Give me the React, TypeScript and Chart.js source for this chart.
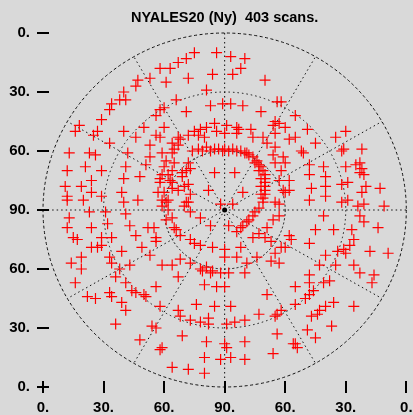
import React, { useEffect, useRef } from "react";
import { Chart, registerables } from "chart.js";

Chart.register(...registerables);

const TITLE = "NYALES20 (Ny)  403 scans.";
// tick positions (zenith-distance projection, degrees); label = elevation
const tickValues = [-90, -60, -30, 0, 30, 60, 90];
const elevationRings = [0, 30, 60];
const azimuthSpokes = [0, 30, 60, 90, 120, 150, 180, 210, 240, 270, 300, 330];

// scan positions: [east, north] offsets from zenith, in degrees of zenith distance
const scansNorthWestArc: [number, number][] = [
  [-32, 72], [-37, 67], [-43, 66], [-44, 63], [-50, 60], [-52, 56], [-49, 56], [-56, 54], [-57, 51], [-61, 46],
  [-72, 43], [-74, 40], [-63, 40], [-65, 38], [-50, 40], [-40, 42], [-44, 37], [-34, 38], [-37, 33], [-34, 48],
  [-32, 51], [-57, 34], [-77, 29], [-67, 29], [-48, 29], [-31, 29],
];
const scansNorth: [number, number][] = [
  [-15, 80], [-4, 80], [3, 78], [10, 77], [-23, 75], [-19, 77], [-27, 72], [-6, 69], [4, 69], [8, 72],
  [-18, 67], [-29, 65], [20, 66], [-9, 61], [-24, 56], [-30, 52], [-7, 53], [-1, 54], [3, 54], [9, 53],
  [-19, 50], [18, 50], [26, 55], [28, 55], [25, 45], [24, 43], [30, 42], [-30, 42], [1, 43], [6, 42],
  [13, 41], [-9, 42], [-5, 44], [-12, 41], [-15, 40], [-18, 38], [-13, 38], [-10, 37], [-4, 40], [0, 39],
  [6, 39], [14, 37], [19, 37], [21, 34], [25, 32], [-22, 36], [-23, 33], [-25, 31], [-32, 37],
  [-26, 34], [-23, 37], [7, 41], [27, 44], [25, 39],
];
const scansRingTop: [number, number][] = [
  [-16, 30], [-13, 31], [-11, 30], [-9, 32], [-7, 30], [-5, 31], [-3, 31], [-1, 30], [0, 31], [2, 30],
  [4, 31], [6, 30], [8, 30], [10, 29], [12, 28],
];
const scansRingEast: [number, number][] = [
  [14, 27], [16, 25], [17, 23], [18, 22], [19, 20], [20, 18], [20, 16], [20, 14], [20, 12], [20, 10],
  [20, 8], [19, 6], [19, 4], [17, 20], [18, 16], [18, 12], [18, 8], [15, 24], [11, 29],
  [15, -1], [14, -3], [12, -5], [11, -6], [9, -8], [8, -9], [6, -11], [17, 1],
];
const scansRingWest: [number, number][] = [
  [-25, 24], [-26, 20], [-27, 15], [-26, 11], [-28, 5], [-32, 14], [-33, 9], [-31, 2], [-26, -4], [-25, -9],
  [-15, -17], [-18, 24], [-21, 19], [-18, 13], [-18, 4], [-20, 2], [-29, 25], [-30, 22], [-31, 18], [-29, 4],
  [-28, 0], [-29, -5], [-26, 29],
];
const scansInner: [number, number][] = [
  [-5, 19], [5, 19], [9, 9], [-8, 10], [-19, 20], [-17, 21], [-21, 17], [-20, 12], [-17, 8], [-19, 4],
  [-17, -1], [-23, 10], [-26, 14], [-28, 18], [-30, 9], [-31, 5], [-12, -4], [-7, -8], [2, -8], [-2, 3],
  [4, 3], [-24, -10], [-22, -13], [-17, -15], [-12, -18], [-6, -19], [0, -20], [8, -19], [14, -14], [17, -12],
  [21, -9], [24, -5], [27, -3], [20, -14], [23, -16], [-31, -28], [-26, -28], [-22, -25], [-17, -27], [-12, -30],
  [-9, -29], [-6, -31], [0, -24], [6, -24], [11, -27], [16, -24], [23, -26], [25, -22], [28, -19], [27, -27],
  [29, 27], [24, 28], [25, 24], [28, 20], [27, 15], [29, 10], [25, 4], [27, 3],
];
const scansEast: [number, number][] = [
  [39, 29], [42, 23], [49, 22], [60, 22], [65, 23], [68, 21], [69, 18], [67, 19], [30, 24], [42, 18],
  [50, 17], [58, 13], [61, 14], [70, 12], [77, 11], [68, 9], [32, 15], [32, 10], [30, 9], [43, 11],
  [50, 12], [42, 5], [50, 7], [58, 4], [61, 5], [66, 2], [69, 3], [79, 2], [49, -3], [67, -3],
  [69, -6], [76, -9], [63, -10], [54, -10], [45, -10], [32, -13], [33, -15], [30, -19], [42, -17], [64, -15],
  [62, -18], [59, -20], [56, -21], [60, -22], [72, -21], [81, -22], [50, -23], [47, -28], [55, -28], [67, -32],
  [58, 30], [67, 24], [42, -33], [74, -33], [64, -28],
  [35, 48], [32, 36], [35, 37], [41, 41], [45, 34], [38, 30], [55, 37], [60, 40], [59, 31], [68, 31],
];
const scansWest: [number, number][] = [
  [-64, 28], [-37, 27], [-39, 23], [-78, 20], [-69, 22], [-61, 20], [-49, 22], [-42, 17], [-32, 16], [-50, 16],
  [-66, 15], [-71, 12], [-79, 12], [-78, 7], [-78, 5], [-70, 5], [-66, 9], [-61, 7], [-51, 9], [-50, 4],
  [-43, 5], [-67, -1], [-59, -1], [-49, -2], [-77, -4], [-78, -9], [-66, -9], [-58, -7], [-47, -8], [-38, -9],
  [-35, -9], [-75, -14], [-73, -15], [-61, -14], [-56, -14], [-44, -13], [-34, -14], [-34, -16], [-63, -19], [-61, -18],
  [-66, -19], [-51, -21], [-41, -19], [-37, -23], [-76, -27], [-71, -24], [-57, -24], [-56, -27], [-52, -30], [-47, -28],
  [-71, -30],
];
const scansSouthWest: [number, number][] = [
  [-74, -37], [-68, -44], [-64, -45], [-57, -42], [-56, -44], [-54, -34], [-49, -37], [-46, -41], [-44, -42], [-40, -43],
  [-39, -44], [-51, -47], [-49, -51], [-32, -49], [-54, -58], [-36, -59], [-34, -60], [-42, -66], [-32, -71], [-34, -39],
];
const scansSouth: [number, number][] = [
  [-23, -34], [-10, -38], [-4, -39], [0, -39], [-7, -32], [-2, -32], [2, -32], [-11, -31], [10, -32], [21, -43],
  [-14, -48], [-5, -49], [3, -49], [-23, -51], [-22, -54], [-17, -56], [-12, -57], [-8, -55], [-8, -58], [1, -58],
  [5, -57], [10, -56], [17, -53], [25, -54], [28, -51], [26, -63], [-21, -64], [-9, -67], [0, -68], [1, -70],
  [10, -67], [-10, -75], [-2, -76], [3, -75], [10, -76], [24, -73], [-26, -80], [-18, -81], [-10, -83], [-31, -70],
];
const scansSouthEast: [number, number][] = [
  [35, -39], [42, -37], [49, -37], [52, -36], [73, -37], [44, -41], [42, -43], [35, -48], [40, -45], [54, -47],
  [50, -49], [47, -51], [43, -54], [46, -53], [64, -49], [53, -59], [41, -61], [45, -65], [35, -68], [36, -70],
  [34, -68], [26, -53],
];

const BG = "#d9d9d9";
const TICK_FONT = { family: '"Liberation Sans", Arial, sans-serif', size: 15, weight: "bold" as const };

export default function App() {
  const ref = useRef<HTMLCanvasElement | null>(null);

  useEffect(() => {
    document.body.style.margin = "0";
    document.body.style.background = BG;
    const canvas = ref.current;
    if (!canvas) return;

    const allScans = [
      ...scansNorthWestArc, ...scansNorth, ...scansRingTop, ...scansRingEast, ...scansRingWest,
      ...scansInner, ...scansEast, ...scansWest, ...scansSouthWest, ...scansSouth, ...scansSouthEast,
    ].map(([e, n]) => ({ x: e, y: n }));

    const skyGrid = {
      id: "skyGrid",
      beforeDraw(chart: any) {
        const { ctx } = chart;
        ctx.save();
        ctx.fillStyle = BG;
        ctx.fillRect(0, 0, chart.width, chart.height);
        ctx.restore();
      },
      beforeDatasetsDraw(chart: any) {
        const { ctx } = chart;
        const xs = chart.scales.x;
        const ys = chart.scales.y;
        const cx = xs.getPixelForValue(0);
        const cy = ys.getPixelForValue(0);
        ctx.save();
        ctx.strokeStyle = "#111";
        ctx.lineWidth = 1;
        const dashes: Record<number, number[]> = { 0: [3, 2.5], 30: [1.5, 3], 60: [2, 2.2] };
        elevationRings.forEach((el) => {
          const zd = 90 - el;
          const rx = xs.getPixelForValue(zd) - cx;
          const ry = cy - ys.getPixelForValue(zd);
          ctx.setLineDash(dashes[el]);
          ctx.beginPath();
          ctx.ellipse(cx, cy, rx, ry, 0, 0, Math.PI * 2);
          ctx.stroke();
        });
        ctx.setLineDash([1.5, 3]);
        azimuthSpokes.forEach((az) => {
          const a = (az * Math.PI) / 180;
          const ex = xs.getPixelForValue(90 * Math.sin(a));
          const ey = ys.getPixelForValue(90 * Math.cos(a));
          ctx.beginPath();
          ctx.moveTo(cx, cy);
          ctx.lineTo(ex, ey);
          ctx.stroke();
        });
        ctx.setLineDash([]);
        ctx.fillStyle = "#000";
        ctx.beginPath();
        ctx.arc(cx, cy, 2.5, 0, Math.PI * 2);
        ctx.fill();
        ctx.restore();
      },
      afterDraw(chart: any) {
        const { ctx, chartArea } = chart;
        const xs = chart.scales.x;
        const ys = chart.scales.y;
        ctx.save();
        ctx.strokeStyle = "#000";
        ctx.lineWidth = 2;
        tickValues.forEach((v) => {
          const py = Math.round(ys.getPixelForValue(v));
          ctx.beginPath();
          ctx.moveTo(chartArea.left - 6, py);
          ctx.lineTo(chartArea.left + 6, py);
          ctx.stroke();
          const px = Math.round(xs.getPixelForValue(v));
          ctx.beginPath();
          ctx.moveTo(px, chartArea.bottom - 6);
          ctx.lineTo(px, chartArea.bottom + 6);
          ctx.stroke();
        });
        ctx.restore();
      },
    };

    const label = (v: any) => `${90 - Math.abs(Number(v))}.`;

    const chart = new Chart(canvas, {
      type: "scatter",
      data: {
        datasets: [
          {
            data: allScans,
            pointStyle: "cross",
            pointRadius: 5.5,
            pointHoverRadius: 5.5,
            borderColor: "#ff0000",
            backgroundColor: "#ff0000",
            borderWidth: 1.2,
          },
        ],
      },
      options: {
        responsive: false,
        animation: false,
        devicePixelRatio: 1,
        layout: { padding: { top: 0, right: 2, left: 0, bottom: 0 } },
        plugins: {
          legend: { display: false },
          tooltip: { enabled: false },
          title: {
            display: true,
            text: TITLE,
            fullSize: false,
            color: "#000",
            font: { family: '"Liberation Sans", Arial, sans-serif', size: 14.5, weight: "bold" },
            padding: { top: 8.8, bottom: 6.8 },
          },
        },
        scales: {
          x: {
            type: "linear",
            min: -90,
            max: 90,
            afterBuildTicks: (s: any) => {
              s.ticks = tickValues.map((v) => ({ value: v }));
            },
            afterFit: (s: any) => {
              s.height = 28;
              s.paddingLeft = 0;
              s.paddingRight = 0;
            },
            grid: { display: false, drawTicks: false },
            border: { display: false },
            ticks: { autoSkip: false, maxRotation: 0, minRotation: 0, padding: 12, color: "#000", font: TICK_FONT, callback: label },
          },
          y: {
            type: "linear",
            min: -90,
            max: 90,
            afterBuildTicks: (s: any) => {
              s.ticks = tickValues.map((v) => ({ value: v }));
            },
            afterFit: (s: any) => {
              s.width = 43;
              s.paddingTop = 0;
              s.paddingBottom = 0;
            },
            grid: { display: false, drawTicks: false },
            border: { display: false },
            ticks: { autoSkip: false, padding: 13, color: "#000", font: TICK_FONT, callback: label },
          },
        },
      },
      plugins: [skyGrid],
    } as any);

    return () => chart.destroy();
  }, []);

  return (
    <div style={{ width: 413, height: 415, background: BG }}>
      <canvas ref={ref} width={413} height={415} style={{ display: "block" }} />
    </div>
  );
}
